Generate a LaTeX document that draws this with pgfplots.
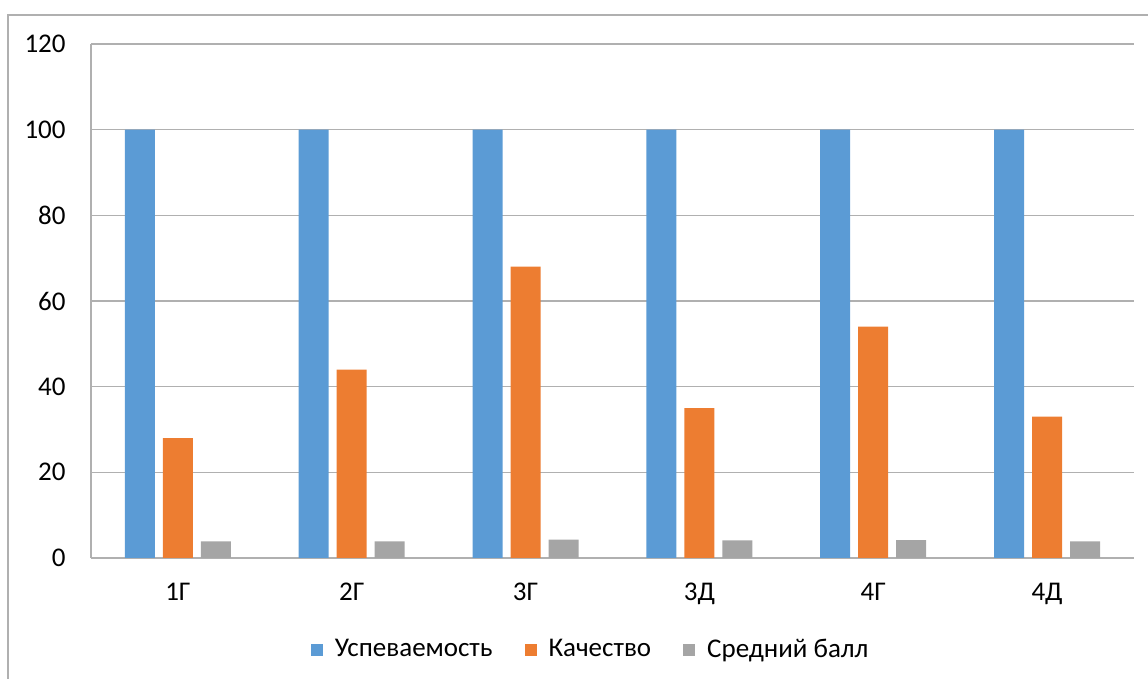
\documentclass[border=0pt]{standalone}
\usepackage{pgfplots}
\pgfplotsset{compat=1.18}
\usepackage{fontspec}
\setmainfont{Carlito}
\definecolor{cblue}{HTML}{5B9BD5}
\definecolor{corange}{HTML}{ED7D31}
\definecolor{cgray}{HTML}{A5A5A5}
\definecolor{gridc}{HTML}{B0B0B0}
\begin{document}
\fontsize{13.5}{16}\selectfont
\begin{tikzpicture}
\useasboundingbox (0,0) rectangle (574pt,339.5pt);
\draw[gridc, line width=0.6pt] (4pt,0) -- (4pt,332pt) -- (574pt,332pt);
\begin{axis}[
  at={(45.5pt,60.5pt)}, anchor=south west,
  scale only axis, width=521.5pt, height=257pt,
  ybar=4pt, bar width=15pt,
  xmin=-0.5, xmax=5.5, ymin=0, ymax=120,
  ytick={0,20,...,120},
  xtick={0,...,5},
  xticklabels={1Г,2Г,3Г,3Д,4Г,4Д},
  ymajorgrids, grid style={gridc, line width=0.6pt},
  axis x line*=bottom, axis y line*=left,
  x axis line style={gridc, line width=0.8pt, -},
  y axis line style={gridc, line width=0.6pt, -},
  major tick length=0pt,
  yticklabel style={xshift=-8pt},
  xticklabel style={yshift=-8pt},
  /pgf/number format/assume math mode=true,
  tick label style={font=\fontsize{13.5}{16}\selectfont},
  legend style={draw=none, at={(0.48,-0.179)}, anchor=center, legend columns=3,
    font=\fontsize{13.5}{16}\selectfont,
    /tikz/every odd column/.append style={column sep=4pt},
    /tikz/every even column/.append style={column sep=14pt}},
  legend image code/.code={\fill[#1] (0pt,-3pt) rectangle (6pt,3pt);},
]
\addplot[fill=cblue, draw=none] coordinates {(0,100) (1,100) (2,100) (3,100) (4,100) (5,100)};
\addplot[fill=corange, draw=none] coordinates {(0,28) (1,44) (2,68) (3,35) (4,54) (5,33)};
\addplot[fill=cgray, draw=none] coordinates {(0,3.9) (1,3.9) (2,4.3) (3,4.1) (4,4.2) (5,3.9)};
\legend{Успеваемость, Качество, Средний балл}
\end{axis}
\end{tikzpicture}
\end{document}
